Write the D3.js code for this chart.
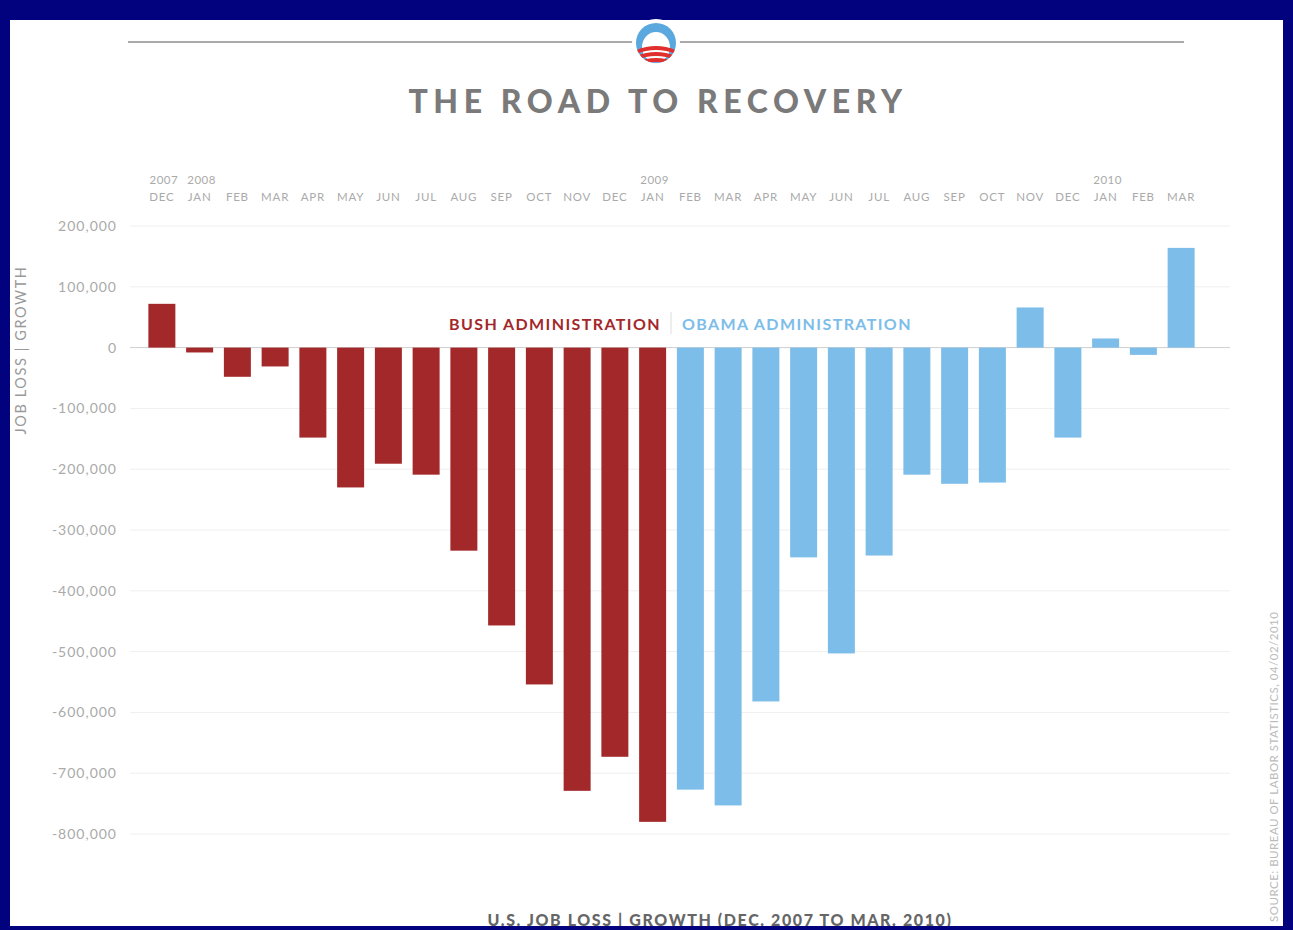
<!DOCTYPE html>
<html>
<head>
<meta charset="utf-8">
<script src="https://cdn.jsdelivr.net/npm/d3@7"></script>
<style>
  body { margin: 0; background: #02027f; }
  svg { display: block; }
  text { font-family: Lato, "Open Sans", sans-serif; }
</style>
</head>
<body>
<svg id="chart" width="1293" height="930"></svg>
<script>
// month labels, year labels and values (jobs)
const months = ["DEC","JAN","FEB","MAR","APR","MAY","JUN","JUL","AUG","SEP","OCT","NOV","DEC",
                "JAN","FEB","MAR","APR","MAY","JUN","JUL","AUG","SEP","OCT","NOV","DEC",
                "JAN","FEB","MAR"];
const years = ["2007","2008","","","","","","","","","","","","2009","","","","","","","","","","","","2010","",""];
const jobs = [72000, -8000, -48000, -31000, -148000, -230000, -191000, -209000, -334000, -457000,
              -554000, -729000, -673000, -780000, -727000, -753000, -582000, -345000, -503000, -342000,
              -209000, -224000, -222000, 66000, -148000, 15000, -12000, 164000];
// dec 2007 .. jan 2009 bush, rest obama
const admin = jobs.map((d, i) => i <= 13 ? "bush" : "obama");
const yTicks = [200000, 100000, 0, -100000, -200000, -300000, -400000, -500000, -600000, -700000, -800000];

const colors = { bush: "#a3282a", obama: "#7dbde9" };

const svg = d3.select("#chart");

// white panel
svg.append("rect").attr("x", 10).attr("y", 20).attr("width", 1273).attr("height", 906).attr("fill", "#fff");

// top rule + logo
svg.append("line").attr("x1", 128).attr("x2", 1184).attr("y1", 42).attr("y2", 42)
  .attr("stroke", "#aaa").attr("stroke-width", 2);

const logo = svg.append("g").attr("transform", "translate(656,43)");
logo.append("circle").attr("r", 24).attr("fill", "#fff");
logo.append("clipPath").attr("id", "logoClip").append("circle").attr("r", 20);
logo.append("circle").attr("r", 20).attr("fill", "#5ba8de");
logo.append("ellipse").attr("cx", 0).attr("cy", 4).attr("rx", 14).attr("ry", 15).attr("fill", "#fff");
const stripes = logo.append("g").attr("clip-path", "url(#logoClip)");
[4, 10, 16].forEach(dy => {
  stripes.append("path")
    .attr("d", `M-22,${dy + 4} Q0,${dy - 6} 22,${dy + 4} L22,${dy + 8} Q0,${dy - 2} -22,${dy + 8} Z`)
    .attr("fill", "#e0302e");
});

// title
svg.append("text").attr("x", 658).attr("y", 113).attr("text-anchor", "middle")
  .attr("font-size", 32).attr("font-weight", 900).attr("letter-spacing", 5.6)
  .attr("fill", "#7a7a7a").text("THE ROAD TO RECOVERY");

// scales
const x = d3.scaleBand().domain(d3.range(jobs.length)).range([143, 1200])
  .paddingInner(0.285).paddingOuter(0.1425);
const y = d3.scaleLinear().domain([-800000, 200000]).range([834, 226]);

// grid
svg.append("g").selectAll("line").data(yTicks).join("line")
  .attr("x1", 130).attr("x2", 1230)
  .attr("y1", d => y(d)).attr("y2", d => y(d))
  .attr("stroke", d => d === 0 ? "#cfcfcf" : "#efefef").attr("stroke-width", 1);

// y labels (plain hyphen for negatives, like the original)
svg.append("g").selectAll("text").data(yTicks).join("text")
  .attr("x", 117).attr("y", d => y(d) + 5).attr("text-anchor", "end")
  .attr("font-size", 14).attr("letter-spacing", 1).attr("fill", "#aaa")
  .text(d => d3.format(",")(d).replace("\u2212", "-"));

svg.append("text").attr("transform", "translate(26,350) rotate(-90)")
  .attr("text-anchor", "middle").attr("font-size", 14.5).attr("fill", "#999")
  .attr("letter-spacing", 1.6).text("JOB LOSS | GROWTH");

// month / year labels
svg.append("g").selectAll("text").data(months).join("text")
  .attr("x", (d, i) => x(i) + x.bandwidth() / 2).attr("y", 201).attr("text-anchor", "middle")
  .attr("font-size", 11.5).attr("fill", "#aaa").attr("letter-spacing", 0.8).text(d => d);
svg.append("g").selectAll("text").data(years).join("text")
  .attr("x", (d, i) => x(i) + x.bandwidth() / 2 + 2).attr("y", 184).attr("text-anchor", "middle")
  .attr("font-size", 11.5).attr("letter-spacing", 0.5).attr("fill", "#aaa").text(d => d);

// bars
svg.append("g").selectAll("rect").data(jobs).join("rect")
  .attr("x", (d, i) => x(i)).attr("width", x.bandwidth())
  .attr("y", d => y(Math.max(0, d)))
  .attr("height", d => Math.abs(y(d) - y(0)))
  .attr("fill", (d, i) => colors[admin[i]]);

// legend
svg.append("text").attr("x", 661).attr("y", 330).attr("text-anchor", "end")
  .attr("font-size", 16).attr("font-weight", 700).attr("letter-spacing", 1.4)
  .attr("fill", colors.bush).text("BUSH ADMINISTRATION");
svg.append("line").attr("x1", 671).attr("x2", 671).attr("y1", 312).attr("y2", 334)
  .attr("stroke", "#ddd");
svg.append("text").attr("x", 682).attr("y", 330)
  .attr("font-size", 16).attr("font-weight", 700).attr("letter-spacing", 1.4)
  .attr("fill", colors.obama).text("OBAMA ADMINISTRATION");

// source
svg.append("text").attr("transform", "translate(1278,922) rotate(-90)")
  .attr("font-size", 11.5).attr("letter-spacing", 0.5).attr("fill", "#bbb")
  .attr("font-family", "'Liberation Sans', Arial, sans-serif")
  .text("SOURCE: BUREAU OF LABOR STATISTICS, 04/02/2010");

// bottom caption (cut off by the frame, as in the original)
svg.append("text").attr("x", 720).attr("y", 926).attr("text-anchor", "middle")
  .attr("font-size", 16).attr("font-weight", 900).attr("letter-spacing", 1.6)
  .attr("fill", "#666").text("U.S. JOB LOSS | GROWTH (DEC. 2007 TO MAR. 2010)");
svg.append("rect").attr("x", 0).attr("y", 926).attr("width", 1293).attr("height", 4).attr("fill", "#02027f");
</script>
</body>
</html>
